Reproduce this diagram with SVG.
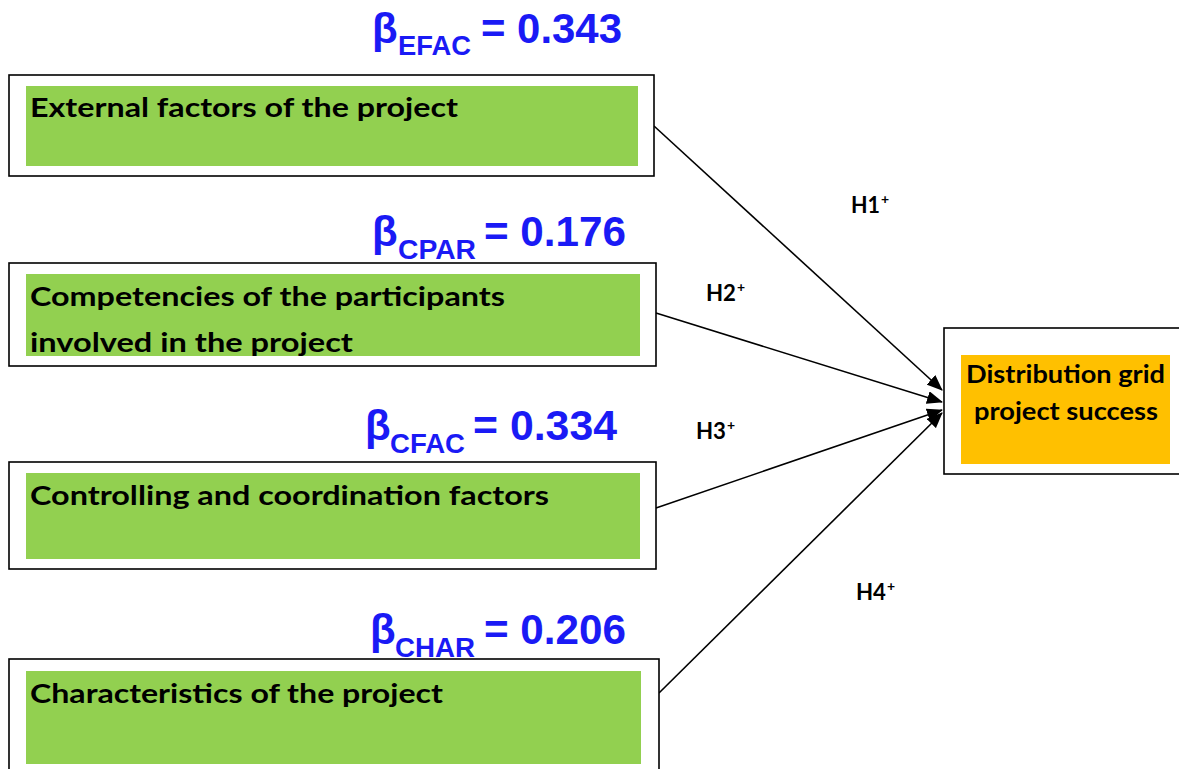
<svg xmlns="http://www.w3.org/2000/svg" width="1179" height="769" viewBox="0 0 1179 769">
  <style>
    .frame { fill: #ffffff; stroke: #000000; stroke-width: 1.6; }
    .green { fill: #92d050; }
    .orange { fill: #ffc000; }
    .label { font-family: Lato, "Liberation Sans", sans-serif; font-weight: bold; font-size: 27px; fill: #000000; }
    .target { font-family: Lato, "Liberation Sans", sans-serif; font-weight: bold; font-size: 24px; fill: #000000; }
    .beta { font-family: "Liberation Sans", Arial, sans-serif; font-weight: bold; fill: #1a1af5; }
    .big { font-size: 42px; }
    .sub { font-size: 27px; }
    .hyp { font-family: Lato, "Liberation Sans", sans-serif; font-weight: bold; font-size: 23px; fill: #000000; }
    .sup { font-size: 14px; }
    .edge { stroke: #000000; stroke-width: 1.6; fill: none; marker-end: url(#head); }
  </style>
  <defs>
    <marker id="head" viewBox="0 0 16 13" refX="15" refY="6.5" markerWidth="16" markerHeight="13" markerUnits="userSpaceOnUse" orient="auto">
      <path d="M0,0 L16,6.5 L0,13 Z" fill="#000000"/>
    </marker>
    <clipPath id="clip-cpar"><rect x="26" y="274" width="614" height="82"/></clipPath>
  </defs>

  <rect width="1179" height="769" fill="#ffffff"/>

  <!-- coefficient labels -->
  <g id="coefficients">
    <text class="beta"><tspan class="big" x="372" y="43">β</tspan><tspan class="sub" x="398" y="55" textLength="73" lengthAdjust="spacingAndGlyphs">EFAC</tspan><tspan class="big" x="481" y="43" textLength="141" lengthAdjust="spacingAndGlyphs">= 0.343</tspan></text>
    <text class="beta"><tspan class="big" x="372" y="246">β</tspan><tspan class="sub" x="398" y="259" textLength="78" lengthAdjust="spacingAndGlyphs">CPAR</tspan><tspan class="big" x="484" y="246" textLength="142" lengthAdjust="spacingAndGlyphs">= 0.176</tspan></text>
    <text class="beta"><tspan class="big" x="365" y="440">β</tspan><tspan class="sub" x="390" y="453" textLength="75" lengthAdjust="spacingAndGlyphs">CFAC</tspan><tspan class="big" x="473" y="440" textLength="144" lengthAdjust="spacingAndGlyphs">= 0.334</tspan></text>
    <text class="beta"><tspan class="big" x="370" y="644">β</tspan><tspan class="sub" x="395" y="657" textLength="80" lengthAdjust="spacingAndGlyphs">CHAR</tspan><tspan class="big" x="484" y="644" textLength="142" lengthAdjust="spacingAndGlyphs">= 0.206</tspan></text>
  </g>

  <!-- connectors -->
  <g id="connectors">
    <line class="edge" x1="654" y1="126" x2="942" y2="390"/>
    <line class="edge" x1="656" y1="313" x2="942" y2="402"/>
    <line class="edge" x1="656" y1="508" x2="942" y2="410"/>
    <line class="edge" x1="659" y1="693" x2="942" y2="413"/>
    <text class="hyp"><tspan x="851" y="213" textLength="29" lengthAdjust="spacingAndGlyphs">H1</tspan><tspan class="sup" x="881" y="204">+</tspan></text>
    <text class="hyp"><tspan x="706" y="301" textLength="30" lengthAdjust="spacingAndGlyphs">H2</tspan><tspan class="sup" x="737" y="292">+</tspan></text>
    <text class="hyp"><tspan x="696" y="439" textLength="30" lengthAdjust="spacingAndGlyphs">H3</tspan><tspan class="sup" x="727" y="430">+</tspan></text>
    <text class="hyp"><tspan x="856" y="600" textLength="30" lengthAdjust="spacingAndGlyphs">H4</tspan><tspan class="sup" x="887" y="591">+</tspan></text>
  </g>

  <g id="node-efac">
    <rect class="frame" x="9" y="75" width="645" height="101"/>
    <rect class="green" x="26" y="86" width="612" height="80"/>
    <text class="label" x="30" y="117" textLength="428" lengthAdjust="spacingAndGlyphs">External factors of the project</text>
  </g>

  <g id="node-cpar">
    <rect class="frame" x="9" y="263" width="647" height="103"/>
    <rect class="green" x="26" y="274" width="614" height="82"/>
    <g clip-path="url(#clip-cpar)">
      <text class="label" x="30" y="306" textLength="475" lengthAdjust="spacingAndGlyphs">Competencies of the participants</text>
      <text class="label" x="30" y="352" textLength="323" lengthAdjust="spacingAndGlyphs">involved in the project</text>
    </g>
  </g>

  <g id="node-cfac">
    <rect class="frame" x="9" y="462" width="647" height="107"/>
    <rect class="green" x="26" y="473" width="614" height="86"/>
    <text class="label" x="30" y="505" textLength="519" lengthAdjust="spacingAndGlyphs">Controlling and coordination factors</text>
  </g>

  <g id="node-char">
    <rect class="frame" x="9" y="659" width="650" height="120"/>
    <rect class="green" x="26" y="671" width="615" height="93"/>
    <text class="label" x="30" y="703" textLength="413" lengthAdjust="spacingAndGlyphs">Characteristics of the project</text>
  </g>

  <g id="node-success">
    <rect class="frame" x="944" y="328" width="245" height="146"/>
    <rect class="orange" x="961" y="355" width="209" height="109"/>
    <text class="target" x="966" y="383" textLength="199" lengthAdjust="spacingAndGlyphs">Distribution grid</text>
    <text class="target" x="974" y="420" textLength="184" lengthAdjust="spacingAndGlyphs">project success</text>
  </g>
</svg>
